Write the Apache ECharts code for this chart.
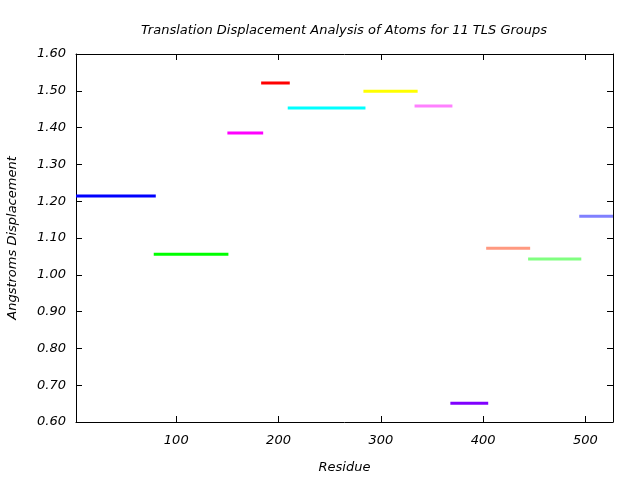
<!DOCTYPE html>
<html>
<head>
<meta charset="utf-8">
<script src="https://cdn.jsdelivr.net/npm/echarts@6/dist/echarts.min.js"></script>
<style>html,body{margin:0;padding:0;background:#fff}#c{width:640px;height:480px}</style>
</head>
<body>
<div id="c"></div>
<script>
var groupStart = [2, 78, 150, 183, 209, 283, 333, 368, 403, 444, 494];
var groupEnd   = [80, 151, 185, 211, 285, 336, 370, 405, 446, 496, 527];
var displacement = [1.214, 1.056, 1.385, 1.521, 1.453, 1.499, 1.459, 0.651, 1.072, 1.043, 1.159];
var groupColors = ['#0000ff', '#00ff00', '#ff00ff', '#ff0000', '#00ffff', '#ffff00', '#ff80ff', '#8000ff', '#ff9980', '#80ff80', '#8080ff'];
var xTicks = [100, 200, 300, 400, 500];

var FONT = 'DejaVu Sans';
var FS = 13;
var series = groupStart.map(function (s, i) {
  return {
    type: 'line',
    data: [[s, displacement[i]], [groupEnd[i], displacement[i]]],
    showSymbol: false,
    symbol: 'none',
    lineStyle: { color: groupColors[i], width: 3, cap: 'butt' },
    silent: true,
    animation: false,
    clip: true
  };
});

var axisLineStyle = { lineStyle: { color: '#000', width: 1 } };
var option = {
  animation: false,
  backgroundColor: '#fff',
  title: {
    text: 'Translation Displacement Analysis of Atoms for 11 TLS Groups',
    left: 339, top: 19, textAlign: 'center',
    textStyle: { fontFamily: FONT, fontStyle: 'italic', fontWeight: 'normal', fontSize: FS, color: '#000' }
  },
  grid: { left: 76, right: 27, top: 54, bottom: 58, containLabel: false, outerBoundsMode: 'none' },
  xAxis: [{
    type: 'value', min: 2, max: 527, position: 'bottom',
    name: 'Residue', nameLocation: 'middle', nameGap: 39,
    nameTextStyle: { fontFamily: FONT, fontStyle: 'italic', fontSize: FS, color: '#000' },
    axisLine: axisLineStyle,
    axisTick: { inside: true, length: 6, customValues: xTicks, lineStyle: { color: '#000' } },
    axisLabel: { customValues: xTicks, fontFamily: FONT, fontStyle: 'italic', fontSize: FS, color: '#000', margin: 12 },
    splitLine: { show: false }
  }, {
    type: 'value', min: 2, max: 527, position: 'top',
    axisLine: axisLineStyle,
    axisTick: { inside: true, length: 6, customValues: xTicks, lineStyle: { color: '#000' } },
    axisLabel: { show: false },
    splitLine: { show: false }
  }],
  yAxis: [{
    type: 'value', min: 0.6, max: 1.6, interval: 0.1, position: 'left',
    name: 'Angstroms Displacement', nameLocation: 'middle', nameGap: 57,
    nameTextStyle: { fontFamily: FONT, fontStyle: 'italic', fontSize: FS, color: '#000' },
    axisLine: { show: true, lineStyle: { color: '#000', width: 1 } },
    axisTick: { show: true, inside: true, length: 6, lineStyle: { color: '#000' } },
    axisLabel: { fontFamily: FONT, fontStyle: 'italic', fontSize: FS, color: '#000', margin: 10,
      formatter: function (v) { return v.toFixed(2); } },
    splitLine: { show: false }
  }, {
    type: 'value', min: 0.6, max: 1.6, interval: 0.1, position: 'right',
    axisLine: { show: true, lineStyle: { color: '#000', width: 1 } },
    axisTick: { show: true, inside: true, length: 6, lineStyle: { color: '#000' } },
    axisLabel: { show: false },
    splitLine: { show: false }
  }],
  series: series
};
echarts.init(document.getElementById('c'), null, { renderer: 'canvas' }).setOption(option);
</script>
</body>
</html>
